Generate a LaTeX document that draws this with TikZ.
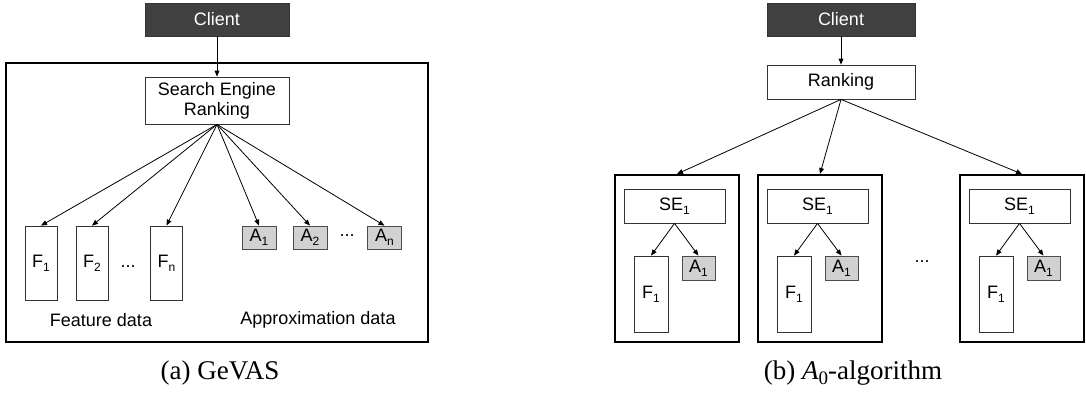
\documentclass[tikz,border=0pt]{standalone}
\usepackage{fontspec}
\setmainfont{Liberation Serif}
\setsansfont{Liberation Sans}
\usepackage{tikz}
\usetikzlibrary{arrows.meta,calc}

\newcommand{\lowidx}[1]{\raisebox{-0.45ex}{\fontsize{6}{6}\selectfont #1}}

\begin{document}
\begin{tikzpicture}[x=0.5pt,y=-0.5pt,
    every node/.style={font=\sffamily\fontsize{9}{10}\selectfont, inner sep=0pt},
    box/.style={draw=black!80, line width=0.4pt, fill=white},
    client/.style={box, fill=black!75, text=white, minimum width=72pt, minimum height=16.5pt},
    feat/.style={box, minimum width=16pt, minimum height=37pt},
    approx/.style={box, draw=black!70, fill=black!18, minimum width=17pt, minimum height=11.5pt},
    outer/.style={draw=black, line width=1pt, minimum width=62pt, minimum height=83.5pt},
    arr/.style={-{Triangle[length=3pt,width=2.4pt]}, line width=0.4pt},
    caption/.style={font=\rmfamily\fontsize{13.5}{15}\selectfont}]
    \useasboundingbox (0,0) rectangle (1086,398);

    % (a) GeVAS
    \node[client] (clientA) at (217,19.5) {Client};
    \draw[line width=1pt] (6,63) rectangle (428,342);
    \node[box, minimum width=72pt, minimum height=23.5pt, align=center] (ser) at (217,100.5)
        {Search Engine\\Ranking};
    \draw[arr] (clientA) -- (ser);
    \node[feat] (f1) at (41,263) {F\lowidx{1}};
    \node[feat] (f2) at (92,263) {F\lowidx{2}};
    \node (fdots) at (128,267) {...};
    \node[feat] (fn) at (166.5,263) {F\lowidx{n}};
    \node[approx] (a1) at (259,237.5) {A\lowidx{1}};
    \node[approx] (a2) at (310,237.5) {A\lowidx{2}};
    \node (adots) at (347,236) {...};
    \node[approx] (an) at (384.5,237.5) {A\lowidx{n}};
    \foreach \t in {f1,f2,fn,a1,a2,an}
        \draw[arr] (ser.south) -- (\t.north);
    \node (featlabel) at (101,320) {Feature data};
    \node (approxlabel) at (318,320) {Approximation data};
    \node[caption] (capA) at (220,373) {(a) GeVAS};

    % (b) A0-algorithm
    \node[client, minimum width=74pt] (clientB) at (841,19.5) {Client};
    \node[box, minimum width=74pt, minimum height=17pt] (rank) at (841,82) {Ranking};
    \draw[arr] (clientB) -- (rank);
    \foreach \n/\x in {1/615,2/758,3/960} {
        \node[outer] (b\n) at (\x+62,258.5) {};
        \node[box, minimum width=50.5pt, minimum height=17pt] (se\n) at (\x+59.5,206) {SE\lowidx{1}};
        \node[feat, minimum width=17pt, minimum height=38pt] (fb\n) at (\x+36,294) {F\lowidx{1}};
        \node[approx, minimum width=16.5pt, minimum height=12pt] (ab\n) at (\x+83.5,268) {A\lowidx{1}};
        \draw[arr] (rank.south) -- (b\n.north);
        \draw[arr] (se\n.south) -- (fb\n.north);
        \draw[arr] (se\n.south) -- (ab\n.north);
    }
    \node (bdots) at (922,262) {...};
    \node[caption] (capB) at (853,373) {(b) \textit{A}\raisebox{-0.4ex}{\fontsize{9.5}{10}\selectfont 0}-algorithm};
\end{tikzpicture}
\end{document}
